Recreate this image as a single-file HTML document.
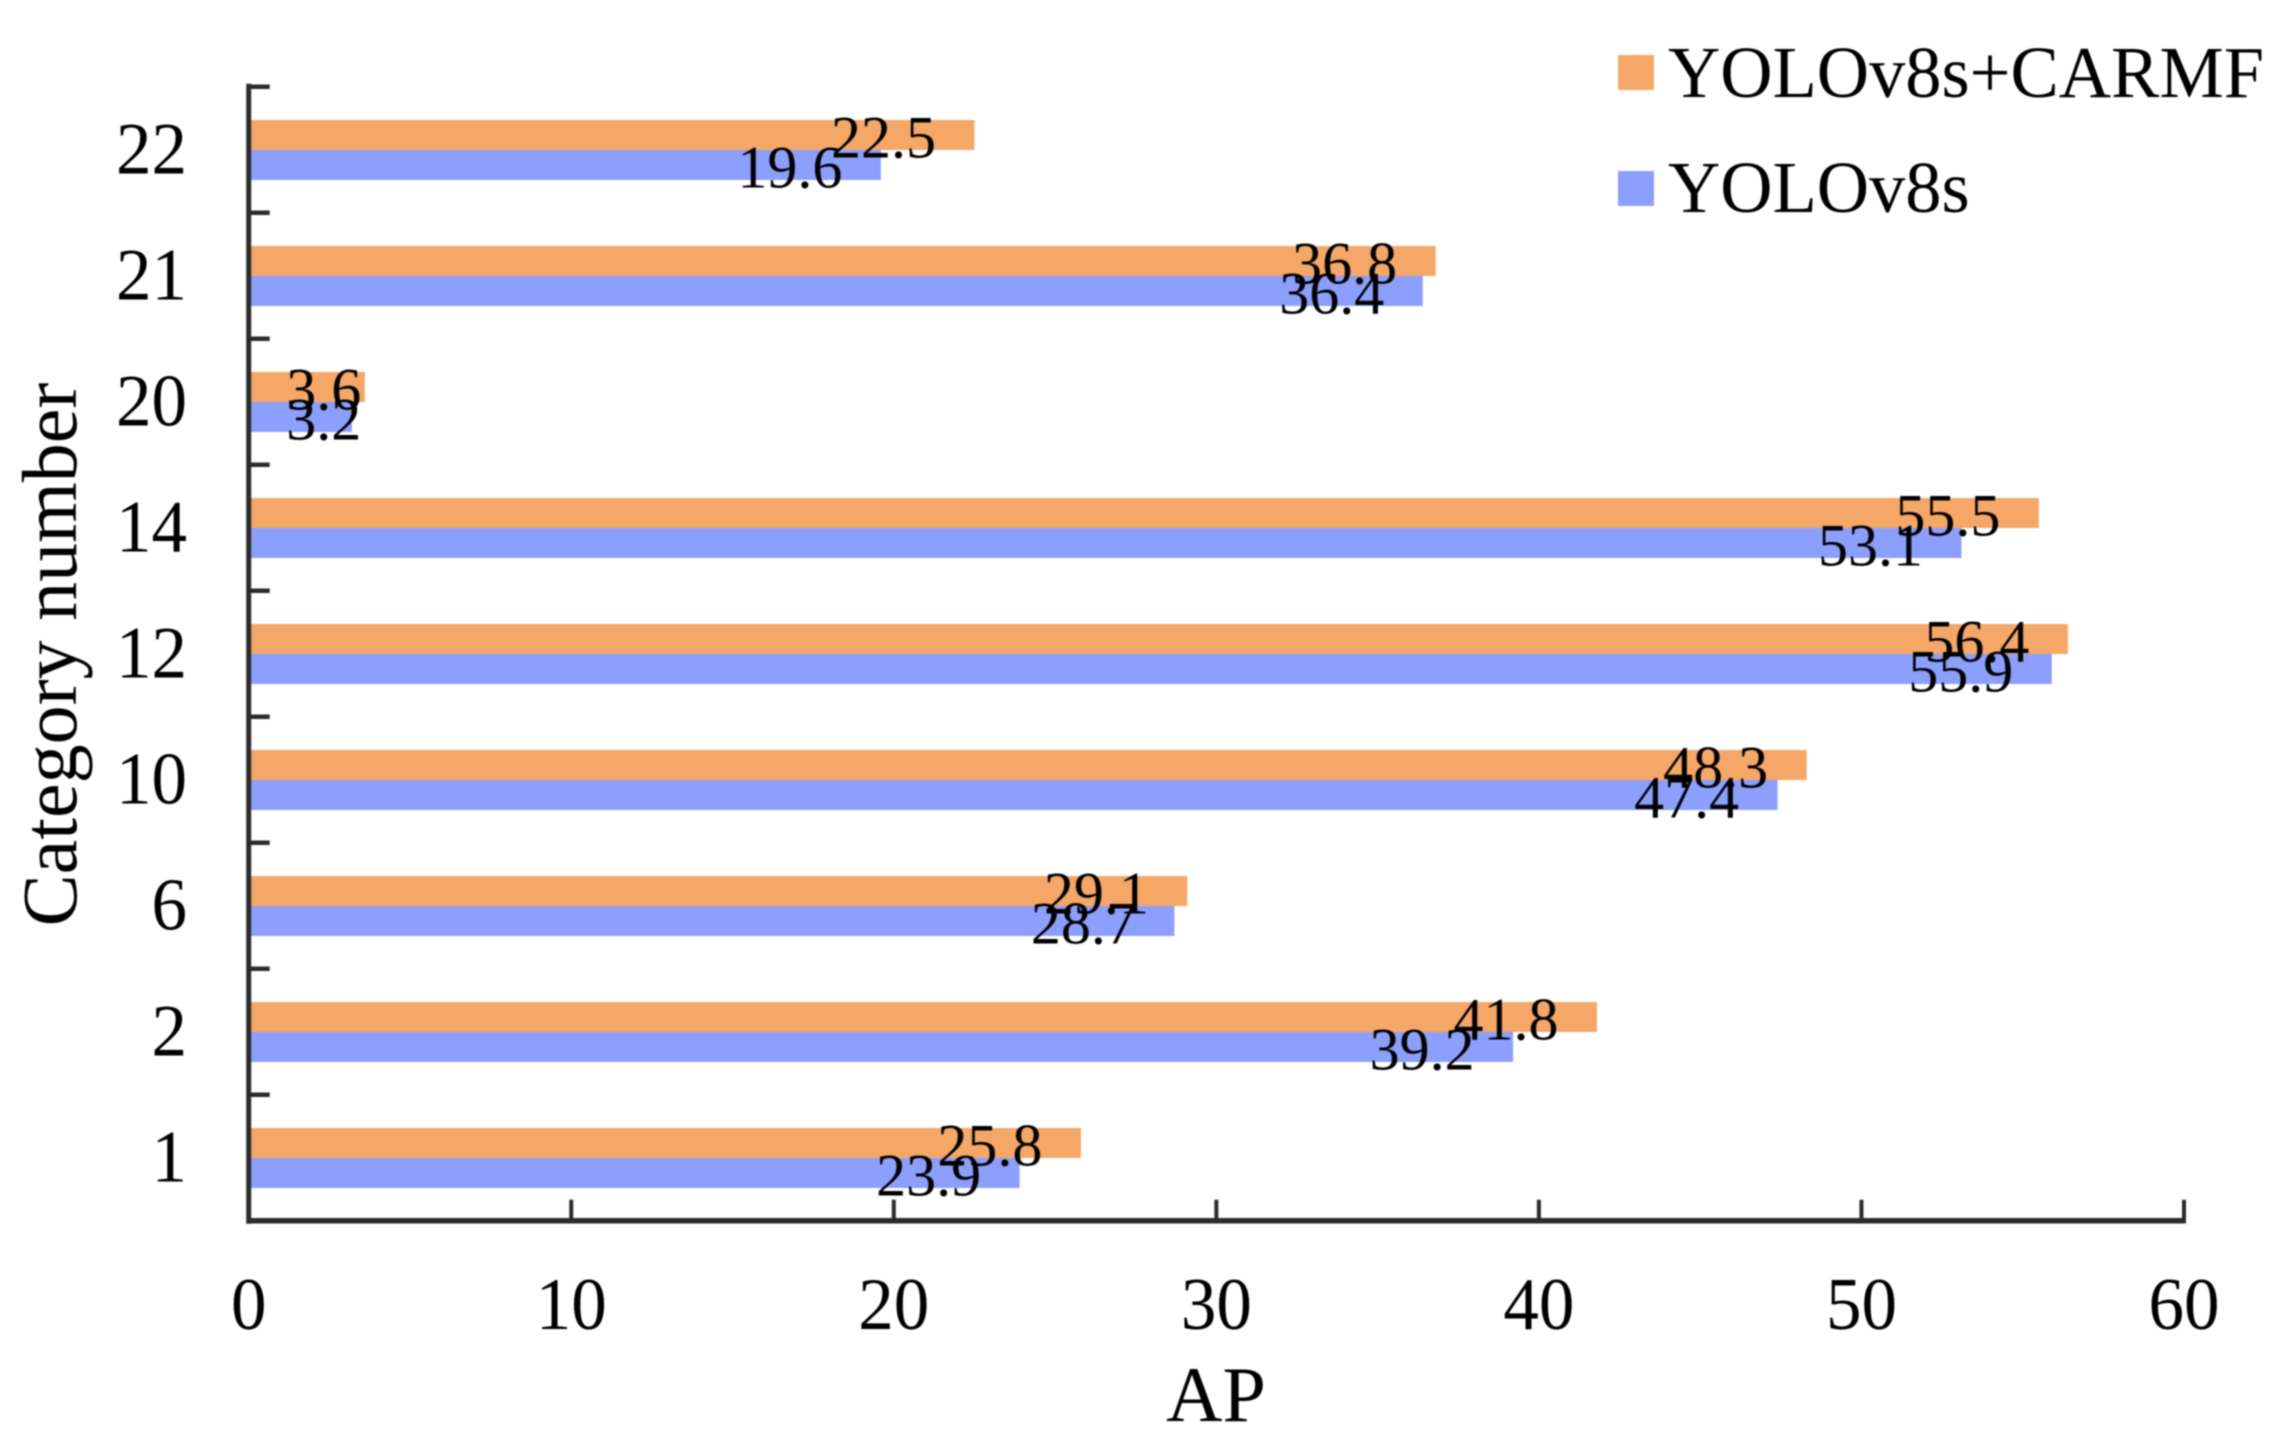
<!DOCTYPE html>
<html lang="en">
<head>
<meta charset="utf-8">
<title>AP by category: YOLOv8s vs YOLOv8s+CARMF</title>
<style>
  html, body { margin: 0; padding: 0; background: #ffffff; }
  #chart { display: block; width: 2283px; height: 1451px; }
  #chart text { font-family: "Liberation Serif", "Times New Roman", serif; fill: #000; }
  #plot-root { filter: blur(0.7px); }
</style>
</head>
<body>
<svg id="chart" xmlns="http://www.w3.org/2000/svg" width="2283" height="1451" viewBox="0 0 2283 1451">
  <rect x="0" y="0" width="2283" height="1451" fill="#ffffff"></rect>
  <g id="plot-root"></g>
</svg>
<script>
const categories = ['1', '2', '6', '10', '12', '14', '20', '21', '22'];
const carmfValues = [25.8, 41.8, 29.1, 48.3, 56.4, 55.5, 3.6, 36.8, 22.5];
const baseValues = [23.9, 39.2, 28.7, 47.4, 55.9, 53.1, 3.2, 36.4, 19.6];
const xTickValues = [0, 10, 20, 30, 40, 50, 60];
const seriesNames = ['YOLOv8s+CARMF', 'YOLOv8s'];

const ORANGE = '#F5A767';
const BLUE = '#8C9FFD';
const AXIS = '#2b2b2b';
const X0 = 248.7, X1 = 2184, XMAX = 60;
const YBOTTOM = 1220.7, YTOP = 86.7;
const root = document.getElementById('plot-root');
const NS = 'http://www.w3.org/2000/svg';

function xScale(v) { return X0 + (v / XMAX) * (X1 - X0); }
function bandTop(i) { return YBOTTOM - (i + 1) * (YBOTTOM - YTOP) / categories.length; }

function make(tag, attrs, text) {
  const el = document.createElementNS(NS, tag);
  for (const k in attrs) el.setAttribute(k, attrs[k]);
  if (text !== undefined) el.textContent = text;
  root.appendChild(el);
  return el;
}

/* bars */
categories.forEach(function (cat, i) {
  const top = bandTop(i);
  const barA = make('rect', { x: X0, y: top + 33.3, width: xScale(carmfValues[i]) - X0, height: 30, fill: ORANGE });
  
  
  const barB = make('rect', { x: X0, y: top + 63.3, width: xScale(baseValues[i]) - X0, height: 30, fill: BLUE });
  
  
});

/* axes */
const yAxis = make('line', { x1: X0, x2: X0, y1: YTOP - 3, y2: YBOTTOM + 3, stroke: AXIS, 'stroke-width': 5 });


const xAxis = make('line', { x1: X0 - 2, x2: X1 + 2, y1: YBOTTOM, y2: YBOTTOM, stroke: AXIS, 'stroke-width': 5.5 });



/* y ticks: boundaries between categories */
for (let i = 1; i <= categories.length; i++) {
  const tick = make('line', { x1: X0, x2: X0 + 21, y1: bandTop(i - 1), y2: bandTop(i - 1), stroke: AXIS, 'stroke-width': 4.5 });
  
  
}

/* y tick labels */
categories.forEach(function (cat, i) {
  const cy = bandTop(i) + 63;
  const label = make('text', { 'text-anchor': 'end', 'font-size': 74, transform: 'translate(187,' + (cy + 24) + ') scale(0.96,1)' }, cat);
  
  
});

/* x ticks and labels */
xTickValues.forEach(function (v) {
  if (v !== 0) {
    const tick = make('line', { x1: xScale(v), x2: xScale(v), y1: YBOTTOM - 21, y2: YBOTTOM, stroke: AXIS, 'stroke-width': 4 });
    
    
  }
  const label = make('text', { 'text-anchor': 'middle', 'font-size': 74, transform: 'translate(' + xScale(v) + ',1329) scale(0.96,1)' }, String(v));
  
  
});

/* value labels */
function labelX(v) { return Math.max(xScale(v) - 91, X0 + 75); }
categories.forEach(function (cat, i) {
  const top = bandTop(i);
  const a = make('text', { x: labelX(carmfValues[i]), y: top + 71, 'text-anchor': 'middle', 'font-size': 60 }, carmfValues[i].toFixed(1));
  
  
  const b = make('text', { x: labelX(baseValues[i]), y: top + 101, 'text-anchor': 'middle', 'font-size': 60 }, baseValues[i].toFixed(1));
  
  
});

/* axis titles */
const xTitle = make('text', { x: 1216, y: 1421, 'text-anchor': 'middle', 'font-size': 78 }, 'AP');


const yTitle = make('text', { 'text-anchor': 'middle', 'font-size': 78, transform: 'translate(76,654.5) rotate(-90)' }, 'Category number');



/* legend */
const swatchA = make('rect', { x: 1618, y: 55, width: 36, height: 35, fill: ORANGE });


const legendA = make('text', { 'font-size': 73, transform: 'translate(1668,97) scale(0.992,1)' }, seriesNames[0]);


const swatchB = make('rect', { x: 1618, y: 171, width: 36, height: 35, fill: BLUE });


const legendB = make('text', { 'font-size': 73, transform: 'translate(1668,212) scale(0.992,1)' }, seriesNames[1]);


</script>
</body>
</html>
